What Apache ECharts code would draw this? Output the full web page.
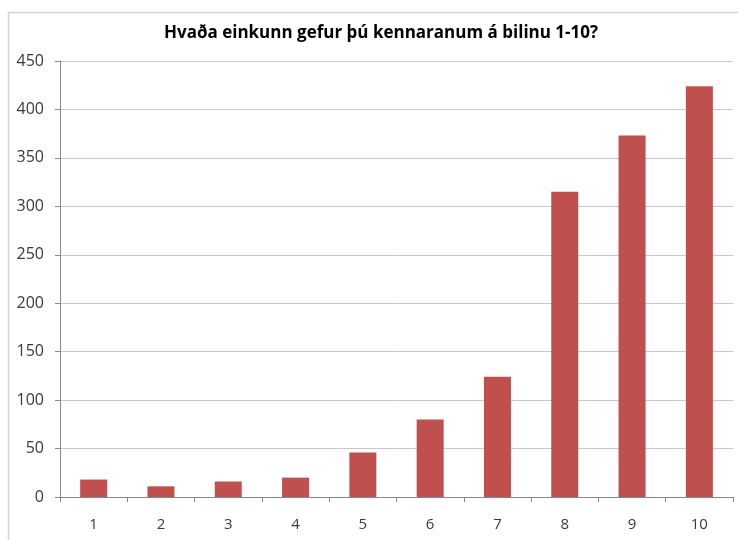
<!DOCTYPE html>
<html>
<head>
<meta charset="utf-8">
<script src="https://cdn.jsdelivr.net/npm/echarts@6/dist/echarts.min.js"></script>
<style>html,body{margin:0;padding:0;background:#fff;}#c{width:738px;height:540px;}</style>
</head>
<body>
<div id="c"></div>
<script>
var titleText = 'Hvaða einkunn gefur þú kennaranum á bilinu 1-10?';
var categories = ['1','2','3','4','5','6','7','8','9','10'];
var values = [18, 11, 16, 20, 46, 80, 124, 315, 373, 424];

var chart = echarts.init(document.getElementById('c'), null, {renderer: 'canvas'});
chart.setOption({
  animation: false,
  backgroundColor: '#fff',
  graphic: [{
    type: 'rect', left: 6, top: 10,
    shape: {width: 760, height: 560},
    style: {fill: 'none', stroke: '#d4d4d4', lineWidth: 1.5},
    silent: true
  }],
  title: {
    text: titleText, left: 159, top: 20,
    textStyle: {fontFamily: 'Open Sans', fontWeight: 'bold', fontSize: 17, color: '#000'}
  },
  grid: {left: 60, right: 5, top: 61, bottom: 43, containLabel: false},
  xAxis: {
    type: 'category', data: categories,
    axisLine: {lineStyle: {color: '#888', width: 1}},
    axisTick: {show: true, inside: false, length: 5, alignWithLabel: false, lineStyle: {color: '#888'}},
    axisLabel: {fontFamily: 'Open Sans', fontSize: 15, color: '#3a3a3a', margin: 20}
  },
  yAxis: {
    type: 'value', min: 0, max: 450, interval: 50,
    axisLine: {show: true, lineStyle: {color: '#888', width: 1}},
    axisTick: {show: true, length: 5, lineStyle: {color: '#888'}},
    axisLabel: {fontFamily: 'Open Sans', fontSize: 16, color: '#3a3a3a', margin: 16},
    splitLine: {show: true, lineStyle: {color: '#c8c8c8', width: 1}}
  },
  series: [{
    type: 'bar', data: values, barWidth: 27,
    itemStyle: {color: '#C0504D'}
  }]
});
</script>
</body>
</html>
